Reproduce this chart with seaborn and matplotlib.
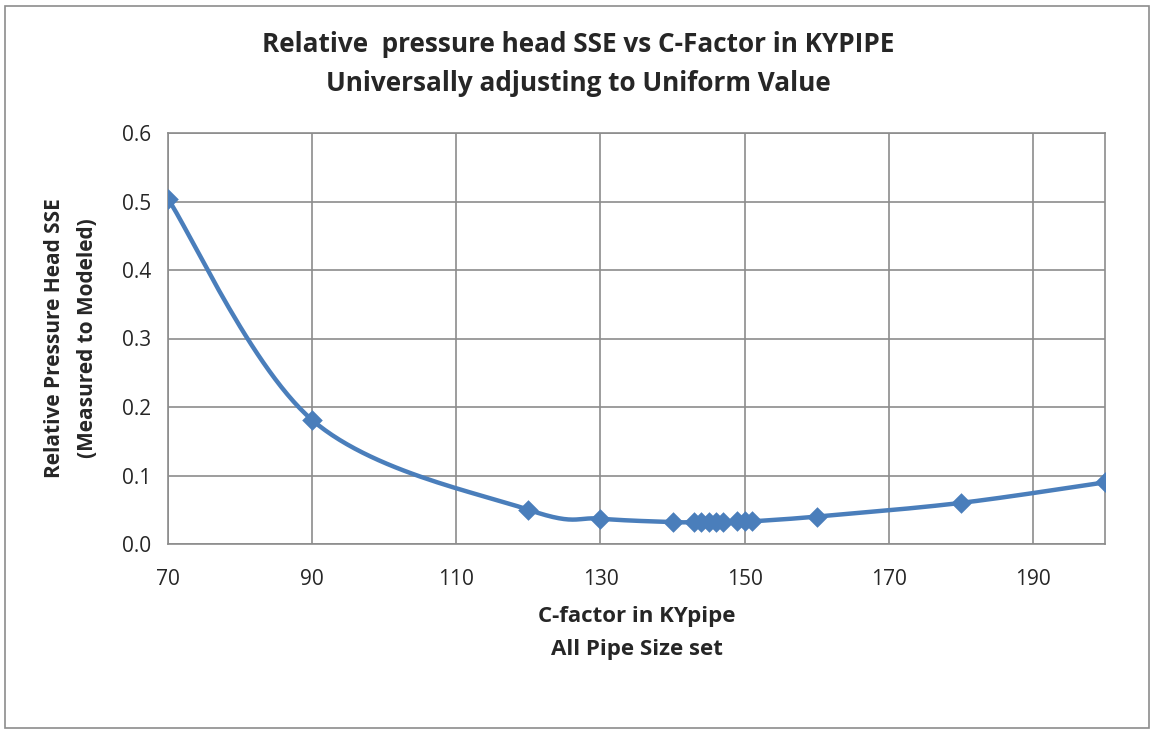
import numpy as np
import pandas as pd
import matplotlib
matplotlib.use("Agg")
import matplotlib.pyplot as plt
import seaborn as sns
from matplotlib.patches import Rectangle

# data
c_factor = [70, 90, 120, 130, 140, 143, 144, 145, 146, 147, 149, 150, 151, 160, 180, 200]
sse      = [0.504, 0.181, 0.050, 0.037, 0.032, 0.032, 0.032, 0.032, 0.032, 0.032,
            0.033, 0.033, 0.033, 0.040, 0.060, 0.090]

x_ticks = [70, 90, 110, 130, 150, 170, 190]
y_ticks = [0.0, 0.1, 0.2, 0.3, 0.4, 0.5, 0.6]

BLUE = "#4A7EBB"
GRID = "#8C8C8C"


def smooth_line(x, y, n=30):
    # Excel style smoothed line: cubic bezier with catmull-rom control points
    x = np.asarray(x, float); y = np.asarray(y, float)
    px = np.concatenate([[x[0]], x, [x[-1]]])
    py = np.concatenate([[y[0]], y, [y[-1]]])
    t = np.linspace(0, 1, n)
    xs, ys = [], []
    for i in range(1, len(px) - 2):
        p0 = np.array([px[i], py[i]]); p3 = np.array([px[i + 1], py[i + 1]])
        p1 = p0 + (np.array([px[i + 1], py[i + 1]]) - np.array([px[i - 1], py[i - 1]])) / 6
        p2 = p3 - (np.array([px[i + 2], py[i + 2]]) - np.array([px[i], py[i]])) / 6
        b = ((1 - t) ** 3)[:, None] * p0 + (3 * (1 - t) ** 2 * t)[:, None] * p1 \
            + (3 * (1 - t) * t ** 2)[:, None] * p2 + (t ** 3)[:, None] * p3
        xs.extend(b[:, 0]); ys.extend(b[:, 1])
    return pd.DataFrame({"x": xs, "y": ys})


sns.set_style("white")
plt.rcParams["font.family"] = ["Open Sans", "DejaVu Sans"]

fig = plt.figure(figsize=(11.54, 7.33), dpi=100)
ax = fig.add_axes([168 / 1154, 1 - 544 / 733, (1105 - 168) / 1154, (544 - 133) / 733])

curve = smooth_line(c_factor, sse)
sns.lineplot(data=curve, x="x", y="y", sort=False, color=BLUE, linewidth=3.2, ax=ax)
pts = pd.DataFrame({"c": c_factor, "sse": sse})
sns.scatterplot(data=pts, x="c", y="sse", marker="D", s=110, color=BLUE,
                edgecolor=BLUE, linewidth=0, ax=ax, zorder=5)

ax.set_xlim(70, 200)
ax.set_ylim(0, 0.6)
ax.set_xticks(x_ticks)
ax.set_yticks(y_ticks)
ax.set_yticklabels([f"{v:.1f}" for v in y_ticks])
ax.tick_params(labelsize=15, length=6, width=1.2, color=GRID, direction="out", pad=6)
ax.tick_params(axis="x", pad=12)
ax.grid(True, color=GRID, linewidth=1.2)
for s in ax.spines.values():
    s.set_color(GRID); s.set_linewidth(1.2)

ax.set_xlabel("C-factor in KYpipe\nAll Pipe Size set", fontsize=16, fontweight="bold",
              linespacing=1.75, va="top")
ax.xaxis.set_label_coords(0.5, -0.152)
ax.set_ylabel("Relative Pressure Head SSE\n(Measured to Modeled)", fontsize=15,
              fontweight="bold", linespacing=1.7, va="center")
ax.yaxis.set_label_coords(-0.1035, 0.5)
fig.text(578 / 1154, 1 - 64 / 733,
         "Relative  pressure head SSE vs C-Factor in KYPIPE\nUniversally adjusting to Uniform Value",
         ha="center", va="center", fontsize=18.8, fontweight="bold", linespacing=1.6)

fig.patches.append(Rectangle((5 / 1154, 5 / 733), 1144 / 1154, 722 / 733,
                             transform=fig.transFigure, fill=False,
                             edgecolor="#8C8C8C", linewidth=1.2))

plt.savefig("out.png", dpi=100)
plt.close()
